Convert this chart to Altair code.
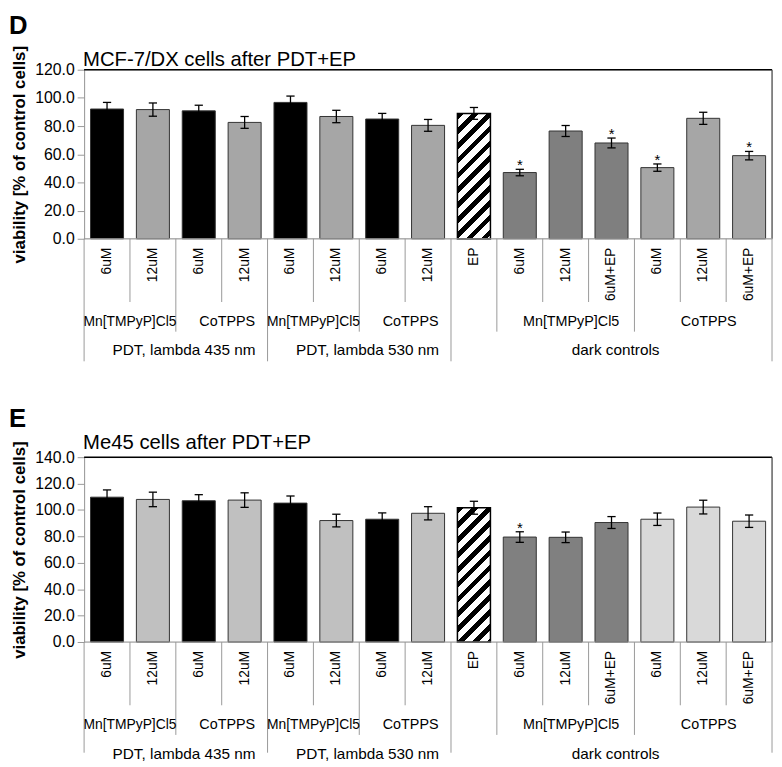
import altair as alt
import pandas as pd

# ---------------- data ----------------
doses = ["6uM", "12uM", "6uM", "12uM", "6uM", "12uM", "6uM", "12uM", "EP",
         "6uM", "12uM", "6uM+EP", "6uM", "12uM", "6uM+EP"]
bar_kinds = ["PDT 6uM", "PDT 12uM", "PDT 6uM", "PDT 12uM", "PDT 6uM", "PDT 12uM", "PDT 6uM", "PDT 12uM",
             "EP", "dark Mn", "dark Mn", "dark Mn", "dark Co", "dark Co", "dark Co"]
compound_labels = ["Mn[TMPyP]Cl5", "CoTPPS", "Mn[TMPyP]Cl5", "CoTPPS", "", "Mn[TMPyP]Cl5", "CoTPPS"]
compound_sizes = [2, 2, 2, 2, 1, 3, 3]
condition_labels = ["PDT, lambda 435 nm", "PDT, lambda 530 nm", "dark controls"]
condition_sizes = [4, 4, 7]

mcf_values = [92.1, 91.7, 90.8, 82.6, 96.8, 86.8, 85.0, 80.5, 89.0, 47.0, 76.5, 68.0, 50.5, 85.5, 59.0]
mcf_errors = [4.7, 4.7, 4.0, 4.2, 4.5, 4.4, 4.0, 4.2, 4.2, 2.3, 3.9, 3.5, 2.6, 4.3, 3.0]
mcf_signif = [0, 0, 0, 0, 0, 0, 0, 0, 0, 1, 0, 1, 1, 0, 1]

me45_values = [109.7, 108.0, 107.0, 107.5, 105.2, 92.0, 93.0, 97.5, 101.7, 79.5, 79.3, 90.5, 93.0, 102.2, 91.5]
me45_errors = [5.5, 5.5, 4.6, 5.5, 5.4, 4.8, 4.8, 5.0, 4.9, 4.0, 4.0, 4.5, 4.7, 5.2, 4.7]
me45_signif = [0, 0, 0, 0, 0, 0, 0, 0, 0, 1, 0, 0, 0, 0, 0]

kind_order = ["PDT 6uM", "PDT 12uM", "dark Mn", "dark Co"]
mcf_colors = ["#000000", "#a6a6a6", "#7f7f7f", "#a6a6a6"]
me45_colors = ["#000000", "#c0c0c0", "#808080", "#d9d9d9"]

FONT = "Liberation Sans"
W = 696
BAR_HALF = 0.36
CAP_HALF = 0.09


def hatch(w, h, period=15.0, frac=0.45):
    """Diagonal '/' stripes as a hard-stop linear gradient in bbox units."""
    L = w + h
    s = L / (w * w + h * h)
    stops = [alt.GradientStop(offset=0, color="white")]
    k = 0
    while k * period < L:
        a = k * period / L
        b = min((k * period + frac * period) / L, 1.0)
        c = min((k + 1) * period / L, 1.0)
        stops += [alt.GradientStop(offset=a, color="white"),
                  alt.GradientStop(offset=a, color="black"),
                  alt.GradientStop(offset=b, color="black"),
                  alt.GradientStop(offset=b, color="white"),
                  alt.GradientStop(offset=c, color="white")]
        k += 1
    return alt.LinearGradient(gradient="linear", stops=stops,
                              x1=0, y1=0, x2=w * s, y2=h * s)


def groups(labels, sizes):
    rows, start = [], 0
    for lab, sz in zip(labels, sizes):
        rows.append({"label": lab, "start": start, "end": start + sz, "mid": start + sz / 2})
        start += sz
    return pd.DataFrame(rows)


def panel(letter, title, values, errors, signif, colors, ymax, H,
          letter_y, title_y, sep3_depth):
    n = len(values)
    df = pd.DataFrame({"i": list(range(n)), "dose": doses, "kind": bar_kinds,
                       "value": values, "err": errors, "sig": signif})
    df["center"] = df["i"] + 0.5
    df["left"] = df["center"] - BAR_HALF
    df["right"] = df["center"] + BAR_HALF
    df["capl"] = df["center"] - CAP_HALF
    df["capr"] = df["center"] + CAP_HALF
    df["lo"] = df["value"] - df["err"]
    df["hi"] = df["value"] + df["err"]

    xs = alt.Scale(domain=[0, n], nice=False, zero=False)
    ys = alt.Scale(domain=[0, ymax], nice=False)
    yaxis = alt.Axis(values=list(range(0, ymax + 1, 20)), tickCount=ymax // 20 + 1,
                     format=".1f", grid=False, labelOverlap=False,
                     title="viability [% of control cells]",
                     domainColor="#999999", tickColor="#999999", tickSize=7,
                     labelFontSize=16, labelFont=FONT, labelColor="black", labelPadding=3,
                     titleFont=FONT, titleFontSize=17, titleFontWeight="bold",
                     titleColor="black", titlePadding=6)

    def Y(field):
        return alt.Y(field, type="quantitative", scale=ys, axis=yaxis)

    base = alt.Chart(df)
    bars = base.transform_filter("datum.kind != 'EP'").mark_bar(
        stroke="#333333", strokeWidth=1).encode(
        x=alt.X("left:Q", scale=xs, axis=None),
        x2="right:Q",
        y=Y("value"),
        y2=alt.datum(0),
        fill=alt.Fill("kind:N", scale=alt.Scale(domain=kind_order, range=colors), legend=None),
    )
    ep_val = values[bar_kinds.index("EP")]
    bw = 2 * BAR_HALF * W / n
    bh = ep_val / ymax * H
    ep = base.transform_filter("datum.kind == 'EP'").mark_bar(
        fill=hatch(bw, bh), stroke="black", strokeWidth=1.5).encode(
        x="left:Q", x2="right:Q", y=Y("value"), y2=alt.datum(0))

    err = base.mark_rule(color="black", strokeWidth=1.3).encode(
        x="center:Q", y=Y("lo"), y2="hi:Q")
    cap_hi = base.mark_rule(color="black", strokeWidth=1.3).encode(
        x="capl:Q", x2="capr:Q", y=Y("hi"))
    cap_lo = base.mark_rule(color="black", strokeWidth=1.3).encode(
        x="capl:Q", x2="capr:Q", y=Y("lo"))
    stars = base.transform_filter("datum.sig == 1").mark_text(
        text="*", font=FONT, fontSize=15, baseline="alphabetic", dy=1, color="black").encode(
        x="center:Q", y=Y("hi"))

    one = alt.Chart(pd.DataFrame({"a": [0]}))
    top = one.mark_rule(color="black", strokeWidth=1.5).encode(
        x=alt.value(0), x2=alt.value(W), y=alt.value(0))
    right = one.mark_rule(color="#444444", strokeWidth=1.2).encode(
        x=alt.value(W), y=alt.value(0), y2=alt.value(H))
    bottom = one.mark_rule(color="#999999", strokeWidth=1).encode(
        x=alt.value(0), x2=alt.value(W), y=alt.value(H))

    g2 = groups(compound_labels, compound_sizes)
    g3 = groups(condition_labels, condition_sizes)
    b3 = sorted(set([0] + list(g3["end"])))
    b2 = sorted(set(g2["end"]) - set(b3))
    b1 = sorted(set(range(1, n)) - set(b3) - set(b2))
    seps = []
    for bnds, depth in [(b1, 64), (b2, 94), (b3, sep3_depth)]:
        seps.append(alt.Chart(pd.DataFrame({"pos": bnds})).mark_rule(
            color="#999999", strokeWidth=1).encode(
            x="pos:Q", y=alt.value(H), y2=alt.value(H + depth)))

    lab1 = base.mark_text(angle=270, align="right", baseline="middle", font=FONT,
                          fontSize=14, color="black").encode(
        x="center:Q", y=alt.value(H + 9), text="dose:N")
    narrow = [lab.startswith("Mn") and s < 8 for lab, s in zip(g2["label"], g2["start"])]
    g2["x"] = g2["mid"] + [0 if nw else 0.12 for nw in narrow]
    g2["fs"] = [14 if nw else 14.5 for nw in narrow]
    lab2 = alt.Chart(g2).mark_text(baseline="middle", font=FONT,
                                   color="black").encode(
        x="x:Q", y=alt.value(H + 84), text="label:N",
        size=alt.Size("fs:Q", scale=None, legend=None))
    g3["x"] = g3["mid"] + [0.18 if lab.startswith("PDT") else 0.09 for lab in g3["label"]]
    lab3 = alt.Chart(g3).mark_text(baseline="middle", font=FONT, fontSize=15.5,
                                   color="black").encode(
        x="x:Q", y=alt.value(H + 113), text="label:N")

    ttl = one.mark_text(text=title, align="left", baseline="alphabetic", font=FONT,
                        fontSize=20.5, color="black").encode(
        x=alt.value(-1), y=alt.value(title_y))
    let = one.mark_text(text=letter, align="left", baseline="alphabetic", font=FONT,
                        fontSize=26, fontWeight="bold", color="black").encode(
        x=alt.value(-76), y=alt.value(letter_y))

    layers = [bars, ep, err, cap_hi, cap_lo, stars, top, right, bottom] + seps + \
             [lab1, lab2, lab3, ttl, let]
    return alt.layer(*layers).properties(width=W, height=H)


d = panel("D", "MCF-7/DX cells after PDT+EP", mcf_values, mcf_errors, mcf_signif,
          mcf_colors, 120, 171, -36, -4, 124)
e = panel("E", "Me45 cells after PDT+EP", me45_values, me45_errors, me45_signif,
          me45_colors, 140, 187, -31, -8, 112)

chart = alt.vconcat(d, e, spacing=43).resolve_scale(fill="independent").properties(
    padding={"left": 0, "top": 0, "right": 0, "bottom": 0}
).configure_view(stroke=None).configure(font=FONT)

chart.save("out.html", embed_options={"renderer": "svg", "actions": False})
